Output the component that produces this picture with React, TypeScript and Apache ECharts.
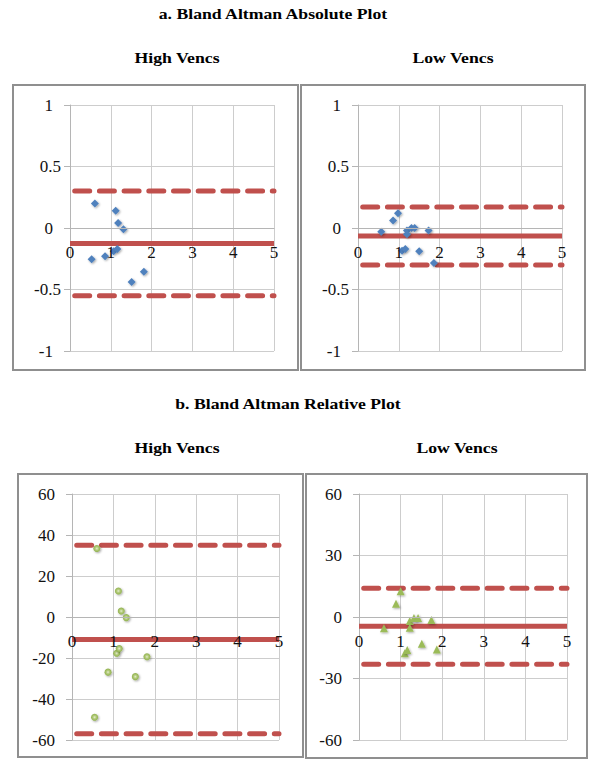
import React, { useEffect, useRef } from "react";
import * as echarts from "echarts";

// ---------- data ----------
const X_MIN = 0;
const X_MAX = 5;
const X_STEP = 1;

// Absolute plot, high vencs: [mean, difference]
const absHighPoints: [number, number][] = [
  [0.53, -0.255], [0.61, 0.2], [0.86, -0.23], [1.07, -0.19], [1.12, 0.14],
  [1.16, -0.17], [1.18, 0.04], [1.31, -0.01], [1.51, -0.44], [1.81, -0.355],
];
const absHighMean = -0.125;
const absHighUpper = 0.3;
const absHighLower = -0.55;

// Absolute plot, low vencs
const absLowPoints: [number, number][] = [
  [0.57, -0.03], [0.86, 0.06], [0.98, 0.12], [1.08, -0.185], [1.16, -0.17],
  [1.2, -0.02], [1.2, -0.05], [1.31, 0.0], [1.39, 0.0], [1.5, -0.19],
  [1.73, -0.02], [1.86, -0.285],
];
const absLowMean = -0.065;
const absLowUpper = 0.17;
const absLowLower = -0.3;

// Relative plot, high vencs
const relHighPoints: [number, number][] = [
  [0.545, -48.9], [0.6, 33.4], [0.87, -26.9], [1.08, -17.7], [1.12, 12.7],
  [1.14, -15.4], [1.19, 2.9], [1.31, -0.3], [1.53, -29.1], [1.81, -19.4],
];
const relHighMean = -11;
const relHighUpper = 35;
const relHighLower = -57;

// Relative plot, low vencs
const relLowPoints: [number, number][] = [
  [0.6, -5.5], [0.89, 6.5], [1.0, 12.6], [1.1, -17.7], [1.16, -16.1],
  [1.22, -1.9], [1.22, -5.2], [1.32, -0.5], [1.42, -0.5], [1.51, -13],
  [1.74, -1.5], [1.87, -15.8],
];
const relLowMean = -4.5;
const relLowUpper = 14;
const relLowLower = -23;

// tick labels
const absYTicks = [-1, -0.5, 0, 0.5, 1];
const relHighYTicks = [-60, -40, -20, 0, 20, 40, 60];
const relLowYTicks = [-60, -30, 0, 30, 60];

// texts
const titleA = "a. Bland Altman Absolute Plot";
const titleB = "b. Bland Altman Relative Plot";
const subHigh = "High Vencs";
const subLow = "Low Vencs";

// ---------- styles ----------
const FONT = "Liberation Serif";
const RED = "#C0504D";
const BLUE = "#4F81BD";
const GREEN = "#9BBB59";
const GRID_C = "#cdcdcd";
const AXIS_C = "#b5b5b5";
const FRAME_C = "#8f8f8f";

const greenBall = {
  type: "radial",
  x: 0.5,
  y: 0.5,
  r: 0.5,
  colorStops: [
    { offset: 0, color: "#e4eccf" },
    { offset: 0.45, color: "#b4cc7c" },
    { offset: 1, color: "#8fb04c" },
  ],
};

const panels = [
  {
    grid: { left: 70, top: 105, width: 204, height: 246 },
    frame: [13, 85, 285, 285],
    points: absHighPoints, mean: absHighMean, upper: absHighUpper, lower: absHighLower,
    ticks: absYTicks, decimals: true, symbol: "diamond", size: 8, color: BLUE as any,
  },
  {
    grid: { left: 358, top: 105, width: 204, height: 246 },
    frame: [301, 85, 284, 285],
    points: absLowPoints, mean: absLowMean, upper: absLowUpper, lower: absLowLower,
    ticks: absYTicks, decimals: true, symbol: "diamond", size: 8, color: BLUE as any,
  },
  {
    grid: { left: 72, top: 494, width: 207, height: 246 },
    frame: [18, 474, 285, 283],
    points: relHighPoints, mean: relHighMean, upper: relHighUpper, lower: relHighLower,
    ticks: relHighYTicks, decimals: false, symbol: "circle", size: 7, color: greenBall as any,
  },
  {
    grid: { left: 359, top: 494, width: 208, height: 246 },
    frame: [306, 474, 281, 284],
    points: relLowPoints, mean: relLowMean, upper: relLowUpper, lower: relLowLower,
    ticks: relLowYTicks, decimals: false, symbol: "triangle", size: 8, color: GREEN as any,
  },
];

function buildOption() {
  const grid = panels.map((p) => ({ ...p.grid, containLabel: false }));
  const xAxis: any[] = [];
  const yAxis: any[] = [];
  const series: any[] = [];

  panels.forEach((p, i) => {
    const yMin = p.ticks[0];
    const yMax = p.ticks[p.ticks.length - 1];
    // distance from the bottom of the plot up to the zero line
    const zeroOffset = -(p.grid.height * (0 - yMin)) / (yMax - yMin);

    // axis placed on the zero line: line + labels, drawn above the series
    xAxis.push({
      gridIndex: i,
      type: "value",
      position: "bottom",
      offset: zeroOffset,
      min: X_MIN,
      max: X_MAX,
      interval: X_STEP,
      axisLine: { show: true, onZero: false, lineStyle: { color: AXIS_C, width: 1 } },
      axisTick: { show: false },
      splitLine: { show: false },
      axisLabel: {
        show: true,
        margin: 16,
        fontSize: 17,
        fontFamily: FONT,
        color: "#111",
      },
      z: 10,
    });
    // grid-only axis, drawn below the series
    xAxis.push({
      gridIndex: i,
      type: "value",
      position: "top",
      min: X_MIN,
      max: X_MAX,
      interval: X_STEP,
      axisLine: { show: false, onZero: false },
      axisTick: { show: false },
      axisLabel: { show: false },
      splitLine: { show: true, lineStyle: { color: GRID_C, width: 1 } },
      z: 0,
    });

    yAxis.push({
      gridIndex: i,
      type: "value",
      min: yMin,
      max: yMax,
      interval: p.ticks[1] - p.ticks[0],
      axisLine: { show: true, onZero: false, lineStyle: { color: AXIS_C, width: 1 } },
      axisTick: { show: true, inside: false, length: 6, lineStyle: { color: AXIS_C } },
      splitLine: { show: true, lineStyle: { color: GRID_C, width: 1 } },
      axisLabel: {
        show: true,
        margin: p.decimals ? 9 : 17,
        fontSize: 17,
        fontFamily: FONT,
        color: "#111",
        formatter: (v: number) =>
          p.decimals && Number.isInteger(v) ? `{i|${v}}` : `{d|${v}}`,
        rich: {
          i: { fontSize: 17, fontFamily: FONT, color: "#111", padding: [0, 8, 0, 0] },
          d: { fontSize: 17, fontFamily: FONT, color: "#111" },
        },
      },
      z: 0,
    });

    const lineSeries = (v: number, dashed: boolean) => ({
      type: "line",
      xAxisIndex: 2 * i,
      yAxisIndex: i,
      data: [[X_MIN, v], [X_MAX, v]],
      symbol: "none",
      silent: true,
      z: 3,
      lineStyle: dashed
        ? { color: RED, width: 5, type: [15, 9.7], cap: "round", dashOffset: 19.5 }
        : { color: RED, width: 5, type: "solid" },
    });
    series.push(lineSeries(p.upper, true));
    series.push(lineSeries(p.lower, true));
    series.push(lineSeries(p.mean, false));

    series.push({
      type: "scatter",
      xAxisIndex: 2 * i,
      yAxisIndex: i,
      data: p.points,
      symbol: p.symbol,
      symbolSize: p.size,
      z: 5,
      itemStyle: {
        color: p.color,
        opacity: 1,
        shadowBlur: 2,
        shadowOffsetX: 1,
        shadowOffsetY: 1,
        shadowColor: "rgba(0,0,0,0.35)",
      },
    });
  });

  const text = (t: string, x: number, y: number) => ({
    type: "text",
    x,
    y,
    scaleX: 1.18,
    style: {
      text: t,
      fontSize: 15,
      fontWeight: "bold",
      fontFamily: FONT,
      fill: "#000",
      align: "center",
      verticalAlign: "middle",
      textAlign: "center",
      textVerticalAlign: "middle",
    },
    z: 10,
  });

  const graphic: any[] = [
    ...panels.map((p) => ({
      type: "rect",
      shape: { x: p.frame[0], y: p.frame[1], width: p.frame[2], height: p.frame[3] },
      style: { fill: "none", stroke: FRAME_C, lineWidth: 2 },
      z: -1,
    })),
    text(titleA, 273, 14),
    text(subHigh, 177, 58),
    text(subLow, 453, 58),
    text(titleB, 288, 404),
    text(subHigh, 177, 448),
    text(subLow, 457, 448),
  ];

  return {
    animation: false,
    backgroundColor: "#ffffff",
    grid,
    xAxis,
    yAxis,
    series,
    graphic,
  };
}

export default function App() {
  const ref = useRef<HTMLDivElement>(null);
  useEffect(() => {
    document.body.style.margin = "0";
    if (!ref.current) return;
    const chart = echarts.init(ref.current, null, { renderer: "svg" });
    chart.setOption(buildOption() as any);
    return () => chart.dispose();
  }, []);
  return (
    <div
      ref={ref}
      style={{ position: "absolute", left: 0, top: 0, width: 589, height: 762 }}
    />
  );
}
